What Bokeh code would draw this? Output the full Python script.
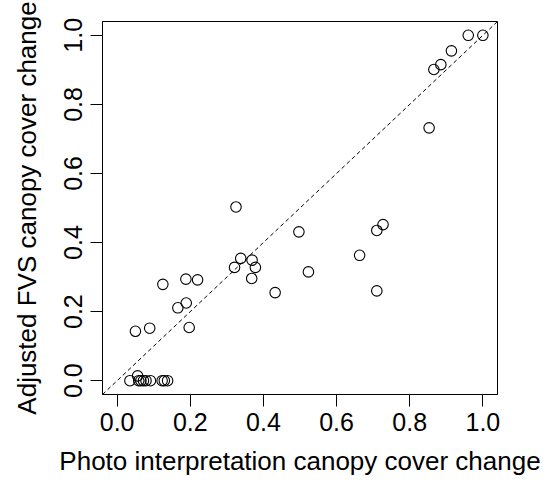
from bokeh.plotting import figure
from bokeh.models import FixedTicker, Range1d, Slope, ColumnDataSource
from bokeh.embed import file_html
from bokeh.resources import INLINE

# Data
photo_change = [0.035, 0.059, 0.065, 0.072, 0.079, 0.091, 0.123, 0.129, 0.138,
                0.056, 0.050, 0.089, 0.125, 0.166, 0.189, 0.197, 0.188, 0.220,
                0.325, 0.321, 0.338, 0.369, 0.378, 0.368, 0.432, 0.497, 0.523,
                0.663, 0.710, 0.727, 0.710, 0.853, 0.866, 0.885, 0.914, 0.960, 1.0]
fvs_change = [0.0, 0.0, 0.0, 0.0, 0.0, 0.0, 0.0, 0.0, 0.0,
              0.014, 0.143, 0.152, 0.279, 0.211, 0.225, 0.154, 0.294, 0.292,
              0.503, 0.328, 0.354, 0.349, 0.328, 0.296, 0.255, 0.431, 0.315,
              0.363, 0.435, 0.452, 0.260, 0.732, 0.901, 0.915, 0.955, 1.0, 1.0]
tick_values = [0.0, 0.2, 0.4, 0.6, 0.8, 1.0]
tick_labels = ["0.0", "0.2", "0.4", "0.6", "0.8", "1.0"]
x_title = "Photo interpretation canopy cover change"
y_title = "Adjusted FVS canopy cover change"

FONT = "Liberation Sans"

p = figure(width=542, height=478, output_backend="svg", toolbar_location=None,
           x_range=Range1d(-0.04, 1.04), y_range=Range1d(-0.04, 1.04),
           min_border_left=102, min_border_right=45, min_border_top=21, min_border_bottom=81)
p.background_fill_color = "white"
p.border_fill_color = "white"
p.outline_line_color = "black"
p.outline_line_width = 1
p.xgrid.visible = False
p.ygrid.visible = False

overrides = {v: l for v, l in zip(tick_values, tick_labels)}
for ax in (p.xaxis[0], p.yaxis[0]):
    ax.ticker = FixedTicker(ticks=tick_values)
    ax.major_label_overrides = overrides
    ax.axis_line_color = "black"
    ax.major_tick_line_color = "black"
    ax.major_tick_in = 0
    ax.major_tick_out = 12
    ax.minor_tick_line_color = None
    ax.major_label_text_font = FONT
    ax.major_label_text_font_size = "25px"
    ax.major_label_text_color = "black"
    ax.axis_label_text_font = FONT
    ax.axis_label_text_font_style = "normal"
    ax.axis_label_text_color = "black"
    ax.axis_label_text_font_size = "26px"

p.xaxis.axis_label = x_title
p.yaxis.axis_label = y_title
p.yaxis.major_label_orientation = "vertical"
p.xaxis.major_label_standoff = 6
p.yaxis.major_label_standoff = 8
p.xaxis.axis_label_standoff = 12
p.yaxis.axis_label_standoff = 20

p.add_layout(Slope(gradient=1, y_intercept=0, line_color="black",
                   line_dash="4 3", line_width=1))

src = ColumnDataSource(data=dict(x=photo_change, y=fvs_change))
p.scatter("x", "y", source=src, size=10.5, fill_color=None,
          line_color="black", line_width=1.1)

open("out.html", "w").write(file_html(p, INLINE))
